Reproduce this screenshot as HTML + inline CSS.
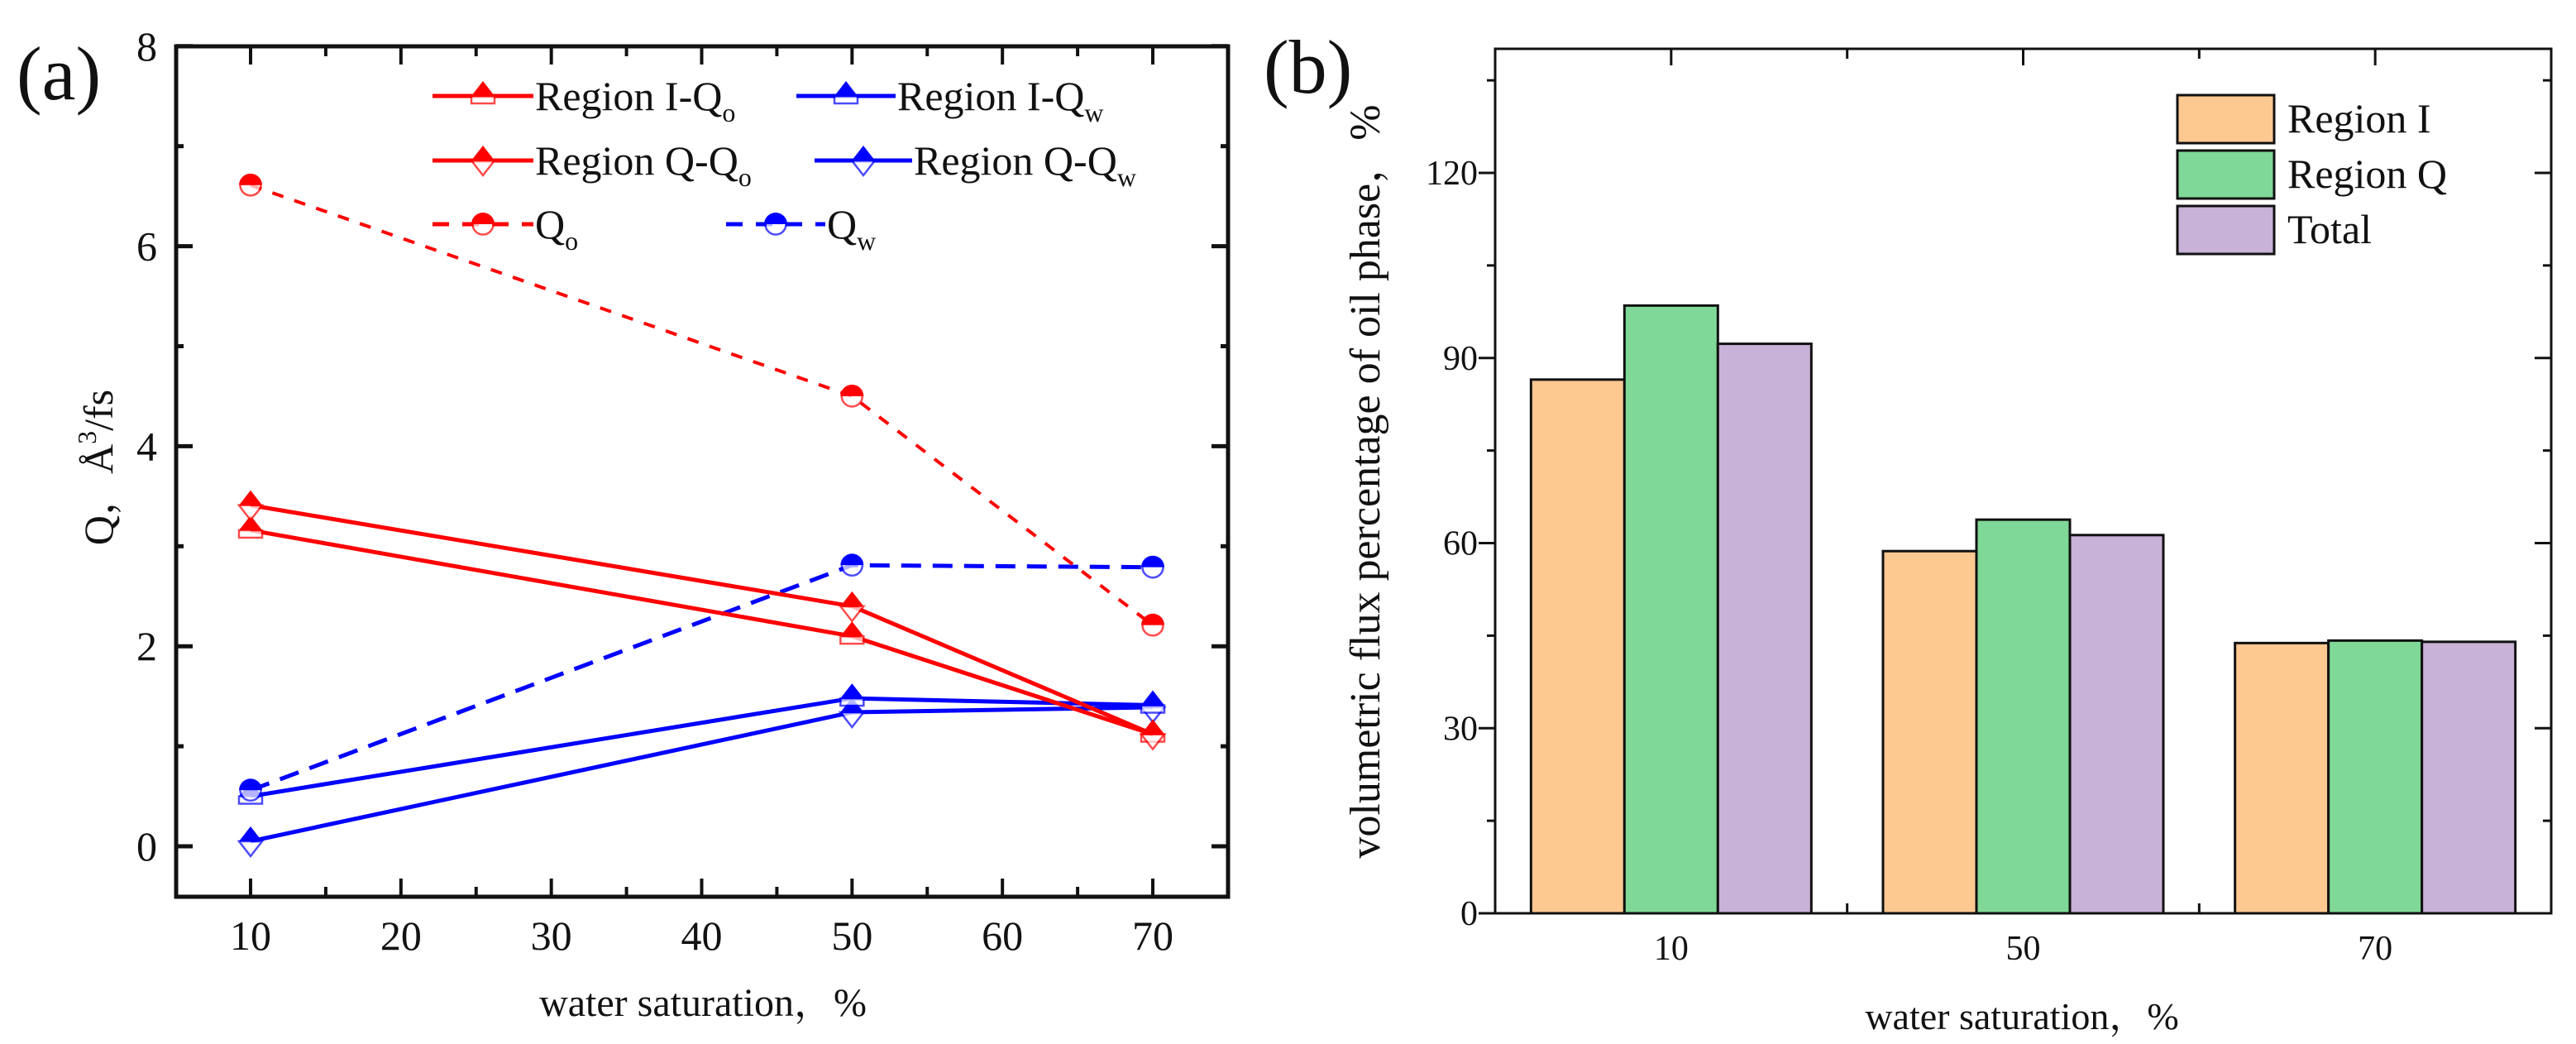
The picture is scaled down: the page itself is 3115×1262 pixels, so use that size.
<!DOCTYPE html>
<html><head><meta charset="utf-8"><style>
html,body{margin:0;padding:0;background:#fff;}
svg{display:block;font-family:"Liberation Serif","Noto Serif CJK SC",serif;}
</style></head><body>
<svg id="fig" width="3115" height="1262" viewBox="0 0 3115 1262" xmlns="http://www.w3.org/2000/svg">
<g id="left"></g>
<g id="right"></g>
</svg>
<script>
// ---- Chart (a) data ----
const xA = [10, 50, 70];
const regionIQo = [3.16, 2.10, 1.12];
const regionQQo = [3.41, 2.40, 1.12];
const regionIQw = [0.50, 1.48, 1.41];
const regionQQw = [0.05, 1.34, 1.39];
const totalQo = [6.61, 4.50, 2.21];
const totalQw = [0.56, 2.81, 2.79];
const xTicksA = [10, 20, 30, 40, 50, 60, 70];
const yTicksA = [0, 2, 4, 6, 8];
// ---- Chart (b) data ----
const catsB = ["10", "50", "70"];
const barRegionI = [86.5, 58.7, 43.8];
const barRegionQ = [98.5, 63.8, 44.2];
const barTotal = [92.3, 61.3, 44.0];
const yTicksB = [0, 30, 60, 90, 120];

const NS = "http://www.w3.org/2000/svg";
function mk(tag, attrs, parent, text) {
  const e = document.createElementNS(NS, tag);
  for (const k in attrs) e.setAttribute(k, attrs[k]);
  if (text !== undefined) e.textContent = text;
  parent.appendChild(e);
  return e;
}

// ===== Chart (a) =====
const L = document.getElementById('left');
const aL = 213, aR = 1485, aT = 56, aB = 1084;
const xa = v => 303 + (v - 10) * (1394 - 303) / 60;
const ya = v => 1023 - v * 120.9;

function marker(g, cx, cy, color, kind) {
  const s = 14;
  const m = mk('g', {}, g);
  
  
  if (kind === 'circle') {
    mk('path', {d: `M${cx-s},${cy} A${s},${s} 0 0 1 ${cx+s},${cy} Z`, fill: color}, m);
    mk('path', {d: `M${cx-s+1.5},${cy} A${s-1.5},${s-1.5} 0 0 0 ${cx+s-1.5},${cy}`, fill: '#fff', stroke: color, 'stroke-width': 2.5, opacity: 0.7}, m);
  } else {
    mk('polygon', {points: `${cx},${cy-s-4} ${cx-s},${cy} ${cx+s},${cy}`, fill: color}, m);
    if (kind === 'square') {
      mk('rect', {x: cx-s, y: cy, width: 2*s, height: 9, fill: '#fff', stroke: color, 'stroke-width': 2.5, opacity: 0.7}, m);
    } else {
      mk('polygon', {points: `${cx-s},${cy} ${cx+s},${cy} ${cx},${cy+s+4}`, fill: '#fff', stroke: color, 'stroke-width': 2.5, opacity: 0.7}, m);
    }
  }
}
function series(name, vals, color, dash, kind, w) {
  const g = mk('g', {}, L);
  
  
  const pts = vals.map((v, i) => `${xa(xA[i])},${ya(v)}`).join(' ');
  const pl = mk('polyline', {points: pts, fill: 'none', stroke: color, 'stroke-width': w}, g);
  if (dash) pl.setAttribute('stroke-dasharray', dash);
  vals.forEach((v, i) => marker(g, xa(xA[i]), ya(v), color, kind));
}
series('series-region-q-qw', regionQQw, '#0000ff', null, 'tri', 5);
series('series-region-i-qw', regionIQw, '#0000ff', null, 'square', 5);
series('series-qw', totalQw, '#0000ff', '24,14', 'circle', 5);
series('series-qo', totalQo, '#ff0000', '14,14', 'circle', 4);
series('series-region-i-qo', regionIQo, '#ff0000', null, 'square', 5);
series('series-region-q-qo', regionQQo, '#ff0000', null, 'tri', 5);

const fa = mk('rect', {x: aL, y: aT, width: aR - aL, height: aB - aT, fill: 'none', stroke: '#111', 'stroke-width': 5}, L);


for (let v = 10; v <= 70; v += 5) {
  const major = v % 10 === 0;
  const len = major ? 22 : 12;
  mk('line', {x1: xa(v), x2: xa(v), y1: aB, y2: aB - len, stroke: '#111', 'stroke-width': 4}, L);
  mk('line', {x1: xa(v), x2: xa(v), y1: aT, y2: aT + len, stroke: '#111', 'stroke-width': 4}, L);
}
xTicksA.forEach(v => {
  const t = mk('text', {x: xa(v), y: 1148, 'font-size': 50, 'text-anchor': 'middle', fill: '#111'}, L, String(v));
  
  
});
for (let v = 0; v <= 8; v += 1) {
  const major = v % 2 === 0;
  const len = major ? 20 : 9;
  mk('line', {x1: aL, x2: aL + len, y1: ya(v), y2: ya(v), stroke: '#111', 'stroke-width': 5}, L);
  mk('line', {x1: aR, x2: aR - len, y1: ya(v), y2: ya(v), stroke: '#111', 'stroke-width': 5}, L);
}
yTicksA.forEach(v => {
  const t = mk('text', {x: 190, y: ya(v) + 17, 'font-size': 50, 'text-anchor': 'end', fill: '#111'}, L, String(v));
  
  
});
</script>
<script>
(function(){
  const L = document.getElementById('left');
  L.insertAdjacentHTML('beforeend', `
  <text x="20" y="120" font-size="92" fill="#111">(a)</text>
  <text x="850" y="1228" font-size="48" text-anchor="middle" fill="#111">water saturation，%</text>
  <text transform="translate(136,565) rotate(-90)" font-size="50" text-anchor="middle" fill="#111">Q，Å<tspan font-size="32" dy="-20">3</tspan><tspan dy="20">/fs</tspan></text>
  `);
  const leg = document.createElementNS("http://www.w3.org/2000/svg",'g');
  
  
  L.appendChild(leg);
  const items = [
    {x1:523,x2:645,y:116,c:'#ff0000',d:null,k:'square',lab:'Region I-Q',sub:'o'},
    {x1:963,x2:1083,y:116,c:'#0000ff',d:null,k:'square',lab:'Region I-Q',sub:'w'},
    {x1:523,x2:645,y:194,c:'#ff0000',d:null,k:'tri',lab:'Region Q-Q',sub:'o'},
    {x1:985,x2:1103,y:194,c:'#0000ff',d:null,k:'tri',lab:'Region Q-Q',sub:'w'},
    {x1:523,x2:645,y:271,c:'#ff0000',d:'20,16',k:'circle',lab:'Q',sub:'o'},
    {x1:878,x2:998,y:271,c:'#0000ff',d:'20,16',k:'circle',lab:'Q',sub:'w'}
  ];
  items.forEach(it=>{
    const g = document.createElementNS("http://www.w3.org/2000/svg",'g');
    
    
    leg.appendChild(g);
    const ln = mk('line',{x1:it.x1,x2:it.x2,y1:it.y,y2:it.y,stroke:it.c,'stroke-width':5},g);
    if (it.d) ln.setAttribute('stroke-dasharray', it.d);
    marker(g,(it.x1+it.x2)/2,it.y,it.c,it.k);
    const t = mk('text',{x:it.x2+2,y:it.y+17,'font-size':50,fill:'#111'},g,it.lab);
    mk('tspan',{'font-size':32,dy:14},t,it.sub);
  });
})();

(function(){
  const R = document.getElementById('right');
  const bL = 1808, bR = 3085, bT = 59, bB = 1104;
  const yb = v => bB - v * (bB - 209) / 120;
  const gw = (bR - bL) / 3;
  const bw = 113;
  const series = [
    {name:'region-i', vals: barRegionI, fill:'#fec891'},
    {name:'region-q', vals: barRegionQ, fill:'#7fd897'},
    {name:'total', vals: barTotal, fill:'#c8b2d7'}
  ];
  catsB.forEach((c, i) => {
    const cx = bL + gw * (i + 0.5);
    series.forEach((s, j) => {
      const x = cx + (j - 1.5) * bw;
      const r = mk('rect', {x: x, y: yb(s.vals[i]), width: bw, height: yb(0) - yb(s.vals[i]), fill: s.fill, stroke: '#111', 'stroke-width': 3}, R);
      
      
    });
    const t = mk('text', {x: cx, y: 1160, 'font-size': 42, 'text-anchor': 'middle', fill: '#111'}, R, c);
    
    
    if (i < 2) {
      mk('line', {x1: bL + gw * (i + 1), x2: bL + gw * (i + 1), y1: bB, y2: bB - 12, stroke: '#111', 'stroke-width': 3}, R);
      mk('line', {x1: bL + gw * (i + 1), x2: bL + gw * (i + 1), y1: bT, y2: bT + 12, stroke: '#111', 'stroke-width': 3}, R);
    }
    mk('line', {x1: cx, x2: cx, y1: bT, y2: bT + 20, stroke: '#111', 'stroke-width': 3}, R);
  });
  const fb = mk('rect', {x: bL, y: bT, width: bR - bL, height: bB - bT, fill: 'none', stroke: '#111', 'stroke-width': 3}, R);
  
  
  for (let v = 0; v <= 135; v += 15) {
    const major = v % 30 === 0;
    const len = major ? 20 : 10;
    mk('line', {x1: bL, x2: bL - len, y1: yb(v), y2: yb(v), stroke: '#111', 'stroke-width': 3}, R);
    mk('line', {x1: bR, x2: bR - len, y1: yb(v), y2: yb(v), stroke: '#111', 'stroke-width': 3}, R);
  }
  yTicksB.forEach(v => {
    const t = mk('text', {x: 1787, y: yb(v) + 14, 'font-size': 42, 'text-anchor': 'end', fill: '#111'}, R, String(v));
    
    
  });
  R.insertAdjacentHTML('beforeend', `
  <text x="1528" y="112" font-size="92" fill="#111">(b)</text>
  <text x="2445" y="1244" font-size="46" text-anchor="middle" fill="#111">water saturation，%</text>
  <text transform="translate(1668,582) rotate(-90)" font-size="52" text-anchor="middle" fill="#111">volumetric flux percentage of oil phase，%</text>
  <g>
    <g><rect x="2633" y="115" width="117" height="58" fill="#fec891" stroke="#111" stroke-width="3"/><text x="2766" y="160" font-size="50" fill="#111">Region I</text></g>
    <g><rect x="2633" y="182" width="117" height="58" fill="#7fd897" stroke="#111" stroke-width="3"/><text x="2766" y="227" font-size="50" fill="#111">Region Q</text></g>
    <g><rect x="2633" y="249" width="117" height="58" fill="#c8b2d7" stroke="#111" stroke-width="3"/><text x="2766" y="294" font-size="50" fill="#111">Total</text></g>
  </g>`);
})();
</script>
</body></html>
